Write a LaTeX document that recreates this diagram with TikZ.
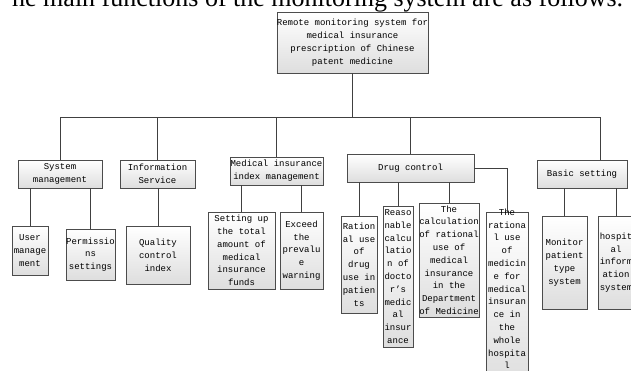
\documentclass[tikz,border=0pt]{standalone}
\usepackage{fontspec}
\usetikzlibrary{shadows}
\newfontfamily\boxfontfam{Liberation Mono}
\newfontfamily\titlefontfam{Liberation Serif}
\newcommand{\boxfont}{\boxfontfam\fontsize{9}{12.8}\selectfont}
\newcommand{\titlefont}{\titlefontfam\fontsize{26}{30}\selectfont}
\tikzset{
  box/.style={draw=black!70, line width=0.7pt, top color=white, bottom color=black!13,
    inner sep=0pt, align=center, font=\boxfont,
    drop shadow={shadow xshift=1pt, shadow yshift=-1pt, opacity=0.35, fill=black!60}},
  txt/.style={inner sep=0pt, align=center, font=\boxfont},
  conn/.style={draw=black!75, line width=0.8pt}
}
\begin{document}
\begin{tikzpicture}[x=1pt,y=-1pt]
\useasboundingbox (0,0) rectangle (631,370);
\clip (0,0) rectangle (631,370);

\node[anchor=base west, inner sep=0pt, font=\titlefont] (title) at (12,6) {he main functions of the monitoring system are as follows.};

% root
\node[box, minimum width=151pt, minimum height=61pt] (root) at (352.5,42.5)
  {Remote monitoring system for\\medical insurance\\prescription of Chinese\\patent medicine};

% level 1
\node[box, minimum width=84pt, minimum height=28pt] (sys) at (60,174) {System\\management};
\node[box, minimum width=75pt, minimum height=28pt] (info) at (157.5,174) {Information\\Service};
\node[box, minimum width=93pt, minimum height=28pt] (med) at (276.5,171) {Medical insurance\\index management};
\node[box, minimum width=127pt, minimum height=28pt] (drug) at (410.5,168) {Drug control};
\node[box, minimum width=90pt, minimum height=28pt] (bas) at (582,174) {Basic setting};

% level 2
\node[box, minimum width=36pt, minimum height=49pt] (user) at (30,250.5) {User\\manage\\ment};
\node[box, minimum width=49pt, minimum height=51pt] (perm) at (90.5,254.5) {Permissio\\ns\\settings};
\node[box, minimum width=64pt, minimum height=58pt] (qual) at (158,255) {Quality\\control\\index};
\node[box, minimum width=67pt, minimum height=77pt] (setup) at (241.5,250.5) {Setting up\\the total\\amount of\\medical\\insurance\\funds};
\node[box, minimum width=43pt, minimum height=77pt] (exceed) at (301.5,250.5) {Exceed\\the\\prevalu\\e\\warning};
\node[box, minimum width=36pt, minimum height=97pt] (rat) at (359,264.5) {Ration\\al use\\of\\drug\\use in\\patien\\ts};
\node[box, minimum width=30pt, minimum height=141pt] (reas) at (398,276.5) {Reaso\\nable\\calcu\\latio\\n of\\docto\\r’s\\medic\\al\\insur\\ance};
\node[box, minimum width=60pt, minimum height=114pt] (calc) at (449,260) {The\\calculation\\of rational\\use of\\medical\\insurance\\in the\\Department\\of Medicine};
\node[box, anchor=north, minimum width=42pt, minimum height=175pt] (whole) at (507,212) {};
\node[txt, anchor=north] (wholetext) at (507,208.5) {The\\rationa\\l use\\of\\medicin\\e for\\medical\\insuran\\ce in\\the\\whole\\hospita\\l};
\node[box, minimum width=45pt, minimum height=93pt] (mon) at (564.5,262.5) {Monitor\\patient\\type\\system};
\node[box, minimum width=36pt, minimum height=93pt] (hosp) at (616,262.5) {hospit\\al\\inform\\ation\\system};

% bus
\coordinate (busL) at (60,117);
\coordinate (busR) at (600,117);
\draw[conn] (busL) -- (busR);
\draw[conn] (root.south) -- (root.south |- busL);
\draw[conn] (sys.north) -- (sys.north |- busL);
\draw[conn] (info.north) -- (info.north |- busL);
\draw[conn] (med.north) -- (med.north |- busL);
\draw[conn] (drug.north) -- (drug.north |- busL);
\draw[conn] (busR) -- (busR |- bas.north);

% children
\draw[conn] (sys.south -| user.north) -- (user.north);
\draw[conn] (sys.south -| perm.north) -- (perm.north);
\draw[conn] (info.south -| qual.north) -- (qual.north);
\draw[conn] (med.south -| setup.north) -- (setup.north);
\draw[conn] (med.south -| exceed.north) -- (exceed.north);
\draw[conn] (drug.south -| rat.north) -- (rat.north);
\draw[conn] (drug.south -| reas.north) -- (reas.north);
\draw[conn] (drug.south -| calc.north) -- (calc.north);
\draw[conn] (drug.east) -| (whole.north);
\draw[conn] (bas.south -| mon.north) -- (mon.north);
\draw[conn] (bas.south -| hosp.north) -- (hosp.north);
\end{tikzpicture}
\end{document}
